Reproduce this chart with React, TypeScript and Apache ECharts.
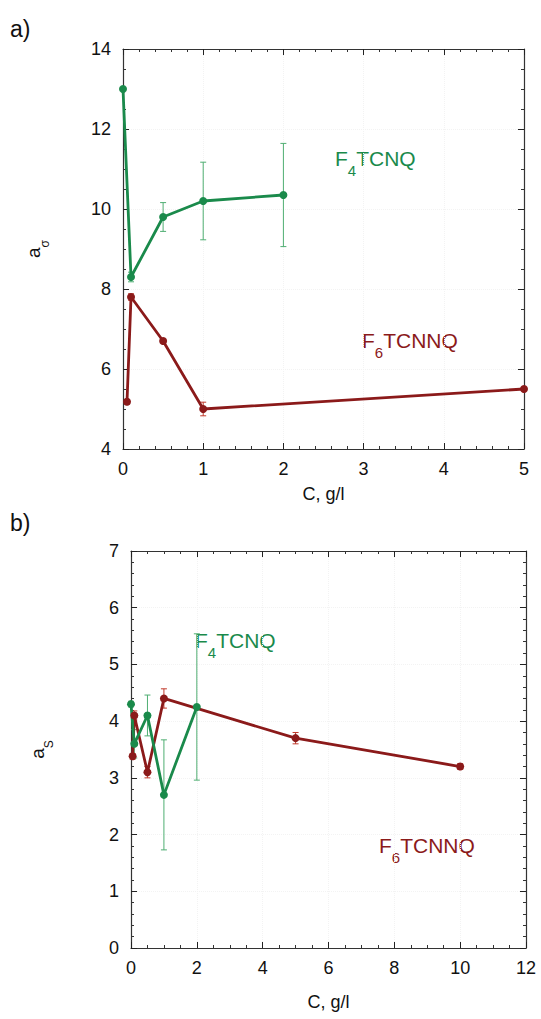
import React, { useEffect, useRef } from "react";
import * as echarts from "echarts";

// ---- Data (panel a) ----
const f4aX = [0, 0.1, 0.5, 1, 2];
const f4aY = [13, 8.3, 9.8, 10.2, 10.35];
const f4aErr = [0, 0.12, 0.36, 0.97, 1.29];
const f6aX = [0.05, 0.1, 0.5, 1, 5];
const f6aY = [5.18, 7.8, 6.7, 5.0, 5.5];
const f6aErr = [0.06, 0.08, 0.05, 0.17, 0.05];

// ---- Data (panel b) ----
const f4bX = [0, 0.1, 0.5, 1, 2];
const f4bY = [4.3, 3.6, 4.1, 2.7, 4.25];
const f4bErr = [0.05, 0.25, 0.36, 0.97, 1.29];
const f6bX = [0.05, 0.1, 0.5, 1, 5, 10];
const f6bY = [3.38, 4.1, 3.1, 4.4, 3.7, 3.2];
const f6bErr = [0.05, 0.08, 0.1, 0.17, 0.1, 0.05];

const GREEN = "#1a8a4b";
const GREEN_ERR = "#4fae72";
const RED = "#8b1a1a";
const RED_ERR = "#c0392b";
const FONT = "Liberation Sans, Arial, sans-serif";

const zip = (xs: number[], ys: number[]) => xs.map((x, i) => [x, ys[i]]);
const zip3 = (xs: number[], ys: number[], es: number[]) => xs.map((x, i) => [x, ys[i], es[i]]);

function errSeries(data: number[][], color: string, xi: number, yi: number) {
  return {
    type: "custom",
    xAxisIndex: xi,
    yAxisIndex: yi,
    z: 1,
    encode: { x: 0, y: 1 },
    data,
    renderItem: (_p: any, api: any) => {
      const x = api.value(0);
      const y = api.value(1);
      const e = api.value(2);
      const t = api.coord([x, y + e]);
      const b = api.coord([x, y - e]);
      const h = 3;
      const st = { stroke: color, lineWidth: 1 };
      return {
        type: "group",
        children: [
          { type: "line", shape: { x1: t[0], y1: t[1], x2: b[0], y2: b[1] }, style: st },
          { type: "line", shape: { x1: t[0] - h, y1: t[1], x2: t[0] + h, y2: t[1] }, style: st },
          { type: "line", shape: { x1: b[0] - h, y1: b[1], x2: b[0] + h, y2: b[1] }, style: st },
        ],
      };
    },
  };
}

function lineSeries(data: number[][], color: string, xi: number, yi: number) {
  return {
    type: "line",
    xAxisIndex: xi,
    yAxisIndex: yi,
    z: 3,
    data,
    symbol: "circle",
    symbolSize: 8,
    lineStyle: { color, width: 2.8 },
    itemStyle: { color },
  };
}

const tickStyle = { lineStyle: { color: "#222", width: 1 } };

function mkX(grid: number, min: number, max: number, interval: number, minorSplit: number, pos: "bottom" | "top", name?: string, nameGap?: number) {
  const main = pos === "bottom";
  return {
    type: "value",
    gridIndex: grid,
    position: pos,
    min,
    max,
    interval,
    name: main ? name : undefined,
    nameLocation: "middle",
    nameGap,
    nameTextStyle: { fontFamily: FONT, fontSize: 18, color: "#111" },
    axisLine: { show: true, onZero: false, lineStyle: { color: "#333", width: 1.2 } },
    axisTick: { show: true, inside: true, length: 6, ...tickStyle },
    minorTick: { show: true, splitNumber: minorSplit, length: 3, lineStyle: { color: "#333" } },
    axisLabel: { show: main, fontFamily: FONT, fontSize: 18, color: "#111", margin: 11 },
    splitLine: { show: main, lineStyle: { color: "#f3f3f3", type: "dotted" } },
  };
}

function mkY(grid: number, min: number, max: number, interval: number, minorSplit: number, pos: "left" | "right", name?: string, nameGap?: number) {
  const main = pos === "left";
  return {
    type: "value",
    gridIndex: grid,
    position: pos,
    min,
    max,
    interval,
    name: main ? name : undefined,
    nameLocation: "middle",
    nameRotate: 90,
    nameGap,
    nameTextStyle: {
      fontFamily: FONT,
      fontSize: 19,
      color: "#111",
      rich: {
        b: { fontFamily: FONT, fontSize: 19, color: "#111", lineHeight: 36 },
        s: { fontFamily: FONT, fontSize: 12, color: "#111", verticalAlign: "bottom", lineHeight: 12 },
      },
    },
    axisLine: { show: true, onZero: false, lineStyle: { color: "#333", width: 1.2 } },
    axisTick: { show: true, inside: true, length: 6, ...tickStyle },
    minorTick: { show: true, splitNumber: minorSplit, length: 3, lineStyle: { color: "#333" } },
    axisLabel: { show: main, fontFamily: FONT, fontSize: 18, color: "#111", margin: 12 },
    splitLine: { show: main, lineStyle: { color: "#f3f3f3", type: "dotted" } },
  };
}

function label(x: number, y: number, main: string, sub: string, rest: string, color: string) {
  return {
    type: "text",
    x,
    y,
    style: {
      text: `{m|${main}}{s|${sub}}{m|${rest}}`,
      fill: color,
      rich: {
        m: { fontFamily: FONT, fontSize: 21, fill: color, color, lineHeight: 40 },
        s: { fontFamily: FONT, fontSize: 15, fill: color, color, verticalAlign: "bottom", lineHeight: 15 },
      },
    },
  };
}

export default function App() {
  const ref = useRef<HTMLDivElement>(null);
  useEffect(() => {
    if (!ref.current) return;
    const chart = echarts.init(ref.current, undefined, { renderer: "svg" });
    chart.setOption({
      animation: false,
      backgroundColor: "#ffffff",
      grid: [
        { left: 123, top: 49, width: 401, height: 400 },
        { left: 131, top: 551, width: 395, height: 397 },
      ],
      xAxis: [
        mkX(0, 0, 5, 1, 5, "bottom", "C, g/l", 36),
        mkX(0, 0, 5, 1, 5, "top"),
        mkX(1, 0, 12, 2, 4, "bottom", "C, g/l", 45),
        mkX(1, 0, 12, 2, 4, "top"),
      ],
      yAxis: [
        mkY(0, 4, 14, 2, 4, "left", "{b|a}{s|σ}", 72),
        mkY(0, 4, 14, 2, 4, "right"),
        mkY(1, 0, 7, 1, 5, "left", "{b|a}{s|S}", 76),
        mkY(1, 0, 7, 1, 5, "right"),
      ],
      series: [
        errSeries(zip3(f4aX, f4aY, f4aErr), GREEN_ERR, 0, 0),
        errSeries(zip3(f6aX, f6aY, f6aErr), RED_ERR, 0, 0),
        lineSeries(zip(f4aX, f4aY), GREEN, 0, 0),
        lineSeries(zip(f6aX, f6aY), RED, 0, 0),
        errSeries(zip3(f4bX, f4bY, f4bErr), GREEN_ERR, 2, 2),
        errSeries(zip3(f6bX, f6bY, f6bErr), RED_ERR, 2, 2),
        lineSeries(zip(f6bX, f6bY), RED, 2, 2),
        lineSeries(zip(f4bX, f4bY), GREEN, 2, 2),
      ],
      graphic: [
        { type: "text", x: 10, y: 17, style: { text: "a)", fontFamily: FONT, fontSize: 23, fill: "#111" } },
        { type: "text", x: 10, y: 511, style: { text: "b)", fontFamily: FONT, fontSize: 23, fill: "#111" } },
        label(335, 138, "F", "4", "TCNQ", GREEN),
        label(362, 320, "F", "6", "TCNNQ", RED),
        label(195, 620, "F", "4", "TCNQ", GREEN),
        label(379, 825, "F", "6", "TCNNQ", RED),
      ],
    });
    return () => chart.dispose();
  }, []);
  return <div ref={ref} style={{ position: "absolute", left: 0, top: 0, width: 541, height: 1019 }} />;
}
